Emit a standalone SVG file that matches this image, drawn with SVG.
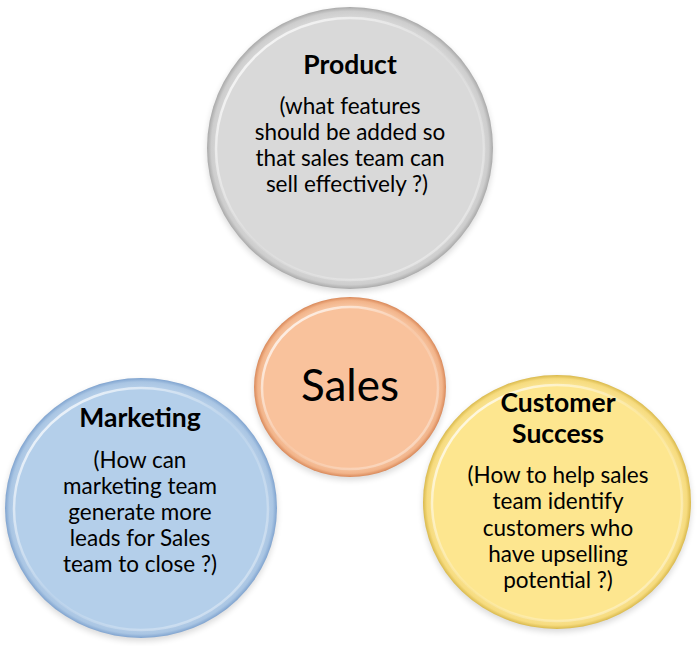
<svg xmlns="http://www.w3.org/2000/svg" width="699" height="646" viewBox="0 0 699 646">
<style>
text{font-family:Lato,"Open Sans","Liberation Sans",sans-serif;fill:#000;text-anchor:middle}
.t{font-weight:bold;font-size:26.5px}
.b{font-size:22.5px}
.inner{stroke-width:2.5}
</style>
<defs>
<filter id="sh" x="-20%" y="-20%" width="140%" height="140%"><feGaussianBlur stdDeviation="3"/></filter>
<radialGradient id="gG" cx="50%" cy="50%" r="50%"><stop offset="0.88" stop-color="#e2e2e2"/><stop offset="0.97" stop-color="#cdcdcd"/><stop offset="1" stop-color="#a9a9a9"/></radialGradient>
<radialGradient id="gO" cx="50%" cy="50%" r="50%"><stop offset="0.86" stop-color="#fbd0b0"/><stop offset="0.96" stop-color="#f2b48a"/><stop offset="1" stop-color="#d9895a"/></radialGradient>
<radialGradient id="gB" cx="50%" cy="50%" r="50%"><stop offset="0.88" stop-color="#c3d9ef"/><stop offset="0.97" stop-color="#a9c5e3"/><stop offset="1" stop-color="#7fa3cf"/></radialGradient>
<radialGradient id="gY" cx="50%" cy="50%" r="50%"><stop offset="0.88" stop-color="#feeca6"/><stop offset="0.97" stop-color="#f6db7e"/><stop offset="1" stop-color="#d9b94c"/></radialGradient>
<linearGradient id="hl" x1="0" y1="0" x2="1" y2="1"><stop offset="0" stop-color="#fff" stop-opacity="0.95"/><stop offset="0.5" stop-color="#fff" stop-opacity="0.1"/><stop offset="1" stop-color="#fff" stop-opacity="0.45"/></linearGradient>
</defs>
<g id="connectors"/>
<g id="product">
<ellipse cx="350" cy="151" rx="143" ry="141" fill="#000" opacity="0.15" filter="url(#sh)"/>
<ellipse cx="350" cy="148" rx="143" ry="141" fill="url(#gG)"/>
<ellipse class="inner" cx="350" cy="149" rx="134" ry="131" fill="#d9d9d9" stroke="url(#hl)"/>
<text class="t" x="350" y="74">Product</text>
<text class="b"><tspan x="350" y="114">(what features</tspan><tspan x="350" y="140">should be added so</tspan><tspan x="350" y="166">that sales team can</tspan><tspan x="347" y="192">sell effectively ?)</tspan></text>
</g>
<g id="sales">
<ellipse cx="350" cy="390" rx="96" ry="90" fill="#000" opacity="0.15" filter="url(#sh)"/>
<ellipse cx="350" cy="387" rx="96" ry="90" fill="url(#gO)"/>
<ellipse class="inner" cx="350" cy="388" rx="88" ry="81" fill="#f9c29c" stroke="url(#hl)"/>
<text x="350" y="401" style="font-size:44px">Sales</text>
</g>
<g id="marketing">
<ellipse cx="141" cy="511" rx="136" ry="130" fill="#000" opacity="0.15" filter="url(#sh)"/>
<ellipse cx="141" cy="508" rx="136" ry="130" fill="url(#gB)"/>
<ellipse class="inner" cx="141" cy="509" rx="127" ry="121" fill="#b4cfea" stroke="url(#hl)"/>
<text class="t" x="140" y="427">Marketing</text>
<text class="b"><tspan x="140" y="468">(How can</tspan><tspan x="140" y="494">marketing team</tspan><tspan x="140" y="520">generate more</tspan><tspan x="140" y="546">leads for Sales</tspan><tspan x="140" y="572">team to close ?)</tspan></text>
</g>
<g id="customer-success">
<ellipse cx="557" cy="505" rx="134" ry="127" fill="#000" opacity="0.15" filter="url(#sh)"/>
<ellipse cx="557" cy="502" rx="134" ry="127" fill="url(#gY)"/>
<ellipse class="inner" cx="557" cy="503" rx="125" ry="118" fill="#fde68f" stroke="url(#hl)"/>
<text class="t"><tspan x="558" y="412">Customer</tspan><tspan x="558" y="443">Success</tspan></text>
<text class="b"><tspan x="558" y="483">(How to help sales</tspan><tspan x="558" y="509">team identify</tspan><tspan x="558" y="536">customers who</tspan><tspan x="558" y="562">have upselling</tspan><tspan x="558" y="588">potential ?)</tspan></text>
</g>
</svg>
